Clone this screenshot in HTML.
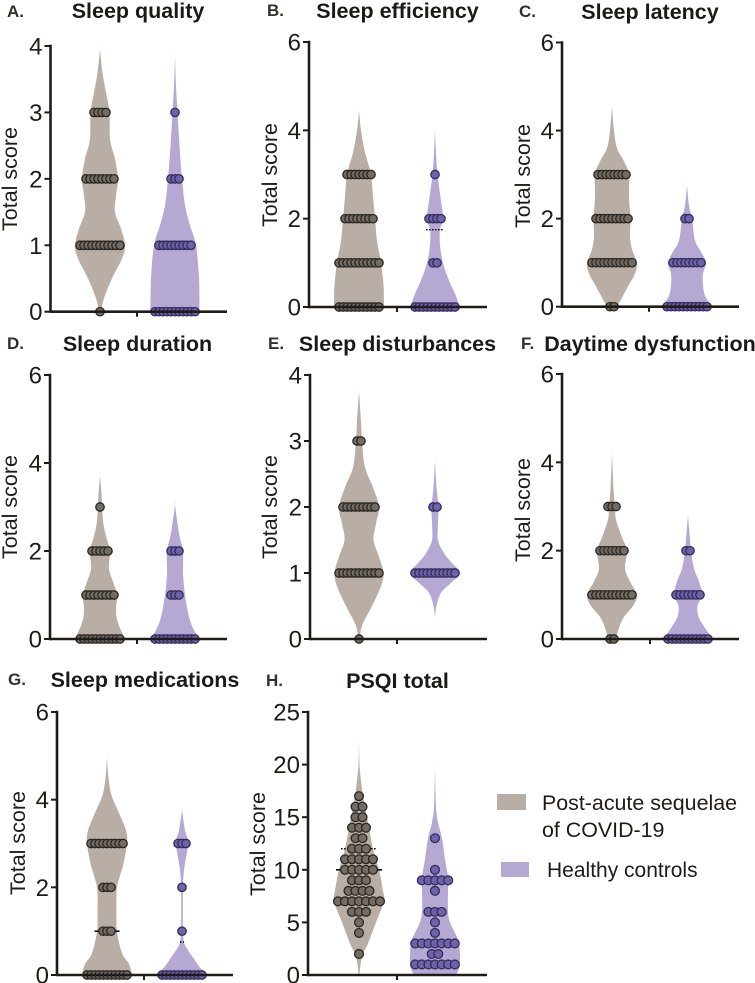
<!DOCTYPE html>
<html>
<head>
<meta charset="utf-8">
<style>
html,body{margin:0;padding:0;background:#fff;}
svg{display:block;font-family:"Liberation Sans",sans-serif;}
</style>
</head>
<body>
<svg id="fig" width="755" height="983" viewBox="0 0 755 983" xmlns="http://www.w3.org/2000/svg">
  <g>
    <rect x="497" y="794" width="29" height="16" fill="#b8aea6"/>
    <text x="542" y="810" font-size="21.4" fill="#1f1c18">Post-acute sequelae</text>
    <text x="542" y="837" font-size="21.4" fill="#1f1c18">of COVID-19</text>
    <rect x="501" y="862" width="28" height="15" fill="#b5a8d3"/>
    <text x="547" y="877" font-size="21" fill="#1f1c18">Healthy controls</text>
  </g>
</svg>
<script>
const categories = ['Post-acute sequelae of COVID-19', 'Healthy controls'];

// A. Sleep quality
const aTicks = [0, 1, 2, 3, 4];
const aScores = [0, 1, 2, 3];
const aPascCounts = [1, 11, 8, 4];
const aCtrlCounts = [11, 9, 3, 1];
const aPascGrid = [0, 0.2, 0.5, 0.8, 1, 1.25, 1.5, 1.75, 2, 2.3, 2.6, 3, 3.3, 3.6, 3.95];
const aPascDensity = [1, 4, 12, 22, 25, 21, 15, 16, 18, 15, 10, 9.5, 6, 2.5, 0];
const aCtrlGrid = [0, 0.5, 1, 1.3, 1.6, 2, 2.5, 3, 3.4, 3.85];
const aCtrlDensity = [24.5, 24, 21, 15, 10, 7, 4.5, 2.5, 1, 0];
const aPascLines = [1, 2, 3];
const aCtrlLines = [1];

// B. Sleep efficiency
const bTicks = [0, 2, 4, 6];
const bScores = [0, 1, 2, 3];
const bPascCounts = [11, 11, 8, 7];
const bCtrlCounts = [11, 2, 4, 1];
const bPascGrid = [0, 0.5, 1, 1.5, 2, 2.5, 3, 3.5, 4, 4.45];
const bPascDensity = [25, 24.5, 22, 18, 16, 14, 12, 6, 2, 0];
const bCtrlGrid = [0, 0.3, 0.6, 1, 1.4, 1.75, 2, 2.4, 3, 3.5, 4];
const bCtrlDensity = [25, 20, 14, 8, 5, 5, 8, 6, 2.5, 1, 0];
const bPascLines = [1, 3];
const bCtrlLines = [];
const bCtrlDotted = [1.75];

// C. Sleep latency
const cTicks = [0, 2, 4, 6];
const cScores = [0, 1, 2, 3];
const cPascCounts = [2, 11, 9, 8];
const cCtrlCounts = [11, 8, 2, 0];
const cPascGrid = [0, 0.25, 0.5, 0.75, 1, 1.3, 1.6, 2, 2.5, 3, 3.3, 3.6, 4, 4.55];
const cPascDensity = [5, 11, 17, 23, 25, 20, 18, 18.5, 17, 17, 12, 5, 2, 0];
const cCtrlGrid = [0, 0.25, 0.5, 0.75, 1, 1.25, 1.5, 2, 2.3, 2.75];
const cCtrlDensity = [25, 18, 16, 16, 19, 14, 8, 5, 2, 0];
const cPascLines = [1, 2, 3];
const cCtrlLines = [1];

// D. Sleep duration
const dTicks = [0, 2, 4, 6];
const dScores = [0, 1, 2, 3];
const dPascCounts = [11, 8, 5, 1];
const dCtrlCounts = [11, 3, 3, 0];
const dPascGrid = [0, 0.15, 0.3, 0.5, 0.7, 1, 1.3, 1.6, 2, 2.3, 2.6, 3, 3.3, 3.7];
const dPascDensity = [25, 22, 19, 16.5, 16, 17, 13, 9, 10, 6.5, 3.5, 2, 1.5, 0];
const dCtrlGrid = [0, 0.2, 0.5, 1, 1.5, 2, 2.4, 3.05];
const dCtrlDensity = [25, 19, 14, 10, 8, 8, 4, 0];
const dPascLines = [1];
const dCtrlLines = [];

// E. Sleep disturbances
const eTicks = [0, 1, 2, 3, 4];
const eScores = [0, 1, 2, 3];
const ePascCounts = [1, 11, 9, 2];
const eCtrlCounts = [0, 11, 2, 0];
const ePascGrid = [0, 0.2, 0.5, 0.8, 1, 1.25, 1.5, 1.75, 2, 2.3, 2.6, 3, 3.3, 3.75];
const ePascDensity = [1, 3, 13, 22, 24.5, 20, 14.5, 17, 20, 14, 6, 3, 2, 0];
const eCtrlGrid = [0.32, 0.5, 0.7, 0.85, 1, 1.15, 1.3, 1.5, 1.75, 2, 2.3, 2.7];
const eCtrlDensity = [0, 1.5, 6, 16, 25, 17, 9, 3, 3, 3.5, 1.5, 0];
const ePascLines = [1, 2];
const eCtrlLines = [1];

// F. Daytime dysfunction
const fTicks = [0, 2, 4, 6];
const fScores = [0, 1, 2, 3];
const fPascCounts = [2, 11, 7, 3];
const fCtrlCounts = [11, 7, 2, 0];
const fPascGrid = [0, 0.25, 0.5, 0.75, 1, 1.3, 1.6, 2, 2.3, 2.7, 3, 3.4, 4.2];
const fPascDensity = [4, 7, 12, 21, 25, 18, 13, 15, 10, 4, 3, 1.5, 0];
const fCtrlGrid = [0, 0.25, 0.5, 0.75, 1, 1.3, 1.6, 2, 2.4, 2.8];
const fCtrlDensity = [25, 17, 10.5, 9.5, 14, 11, 6, 3, 1.5, 0];
const fPascLines = [1, 2];
const fCtrlLines = [1];

// G. Sleep medications
const gTicks = [0, 2, 4, 6];
const gScores = [0, 1, 2, 3];
const gPascCounts = [11, 3, 3, 9];
const gCtrlCounts = [11, 1, 1, 3];
const gPascGrid = [0, 0.25, 0.5, 1, 1.5, 2, 2.5, 3, 3.3, 3.7, 4.1, 4.5, 4.95];
const gPascDensity = [25, 22, 15, 10, 9.5, 10, 16, 20, 19, 12, 4.5, 1.5, 0];
const gCtrlGrid = [0, 0.2, 0.4, 0.6, 0.75, 1, 1.5, 2, 2.4, 3, 3.3, 3.75];
const gCtrlDensity = [25, 17, 11, 5, 2, 1, 0.8, 1, 2, 6, 3, 0];
const gPascLines = [3];
const gPascMedian = [1];
const gCtrlLines = [3];
const gCtrlDotted = [0.75];

// H. PSQI total
const hTicks = [0, 5, 10, 15, 20, 25];
const hPascScores = [2, 4, 5, 6, 7, 8, 9, 10, 11, 12, 13, 14, 15, 16, 17];
const hPascCounts = [1, 1, 1, 3, 7, 4, 3, 5, 5, 3, 2, 3, 2, 2, 1];
const hCtrlScores = [1, 2, 3, 4, 5, 6, 8, 9, 10, 13];
const hCtrlCounts = [7, 2, 7, 1, 1, 3, 1, 5, 1, 1];
const hPascGrid = [0, 1, 2, 3, 5, 7, 8, 10, 12, 14, 15.5, 17, 18.5, 20, 22.3];
const hPascDensity = [0.5, 1.5, 4, 9, 17, 25, 24, 20, 14, 10, 7, 4, 2, 0.5, 0];
const hCtrlGrid = [0, 1, 3, 4, 5, 6, 8, 9, 11, 13, 14.5, 16, 19.7];
const hCtrlDensity = [21, 25, 24, 20, 15, 13, 13, 13.5, 10, 7, 3, 1, 0];
const hPascLines = [10];
const hPascDotted = [12];
const hCtrlLines = [3];

const panels = [
  {key:'a', letter:'A.', title:'Sleep quality', lx:7, ly:17, tx:138, ty:18, max:4, ticks:aTicks, scoresA:aScores, scoresB:aScores, countsA:aPascCounts, countsB:aCtrlCounts, gridA:aPascGrid, densA:aPascDensity, gridB:aCtrlGrid, densB:aCtrlDensity, linesA:aPascLines, linesB:aCtrlLines, axisX:50.5, top:46, base:311.7, end:227, c1:100, c2:175, tick:137, titleX:17, titleY:179, step:4, stepB:4, r:4.2, lineHalf:0, dotHalf:9},
  {key:'b', letter:'B.', title:'Sleep efficiency', lx:267, ly:16, tx:397.5, ty:18, max:6, ticks:bTicks, scoresA:bScores, scoresB:bScores, countsA:bPascCounts, countsB:bCtrlCounts, gridA:bPascGrid, densA:bPascDensity, gridB:bCtrlGrid, densB:bCtrlDensity, linesA:bPascLines, linesB:bCtrlLines, dottedB:bCtrlDotted, axisX:309, top:42, base:307, end:487, c1:359, c2:435, tick:397, titleX:277, titleY:175, step:4, stepB:4, r:4.2, lineHalf:0, dotHalf:9},
  {key:'c', letter:'C.', title:'Sleep latency', lx:519, ly:17, tx:650, ty:19, max:6, ticks:cTicks, scoresA:cScores, scoresB:cScores, countsA:cPascCounts, countsB:cCtrlCounts, gridA:cPascGrid, densA:cPascDensity, gridB:cCtrlGrid, densB:cCtrlDensity, linesA:cPascLines, linesB:cCtrlLines, axisX:562, top:42.5, base:306.7, end:739, c1:612, c2:687, tick:649, titleX:530, titleY:176, step:4, stepB:4, r:4.2, lineHalf:0, dotHalf:9},
  {key:'d', letter:'D.', title:'Sleep duration', lx:7, ly:349, tx:137.5, ty:351, max:6, ticks:dTicks, scoresA:dScores, scoresB:dScores, countsA:dPascCounts, countsB:dCtrlCounts, gridA:dPascGrid, densA:dPascDensity, gridB:dCtrlGrid, densB:dCtrlDensity, linesA:dPascLines, linesB:dCtrlLines, axisX:50, top:375, base:639, end:227, c1:100, c2:175, tick:137, titleX:17, titleY:507, step:4, stepB:4, r:4.2, lineHalf:0, dotHalf:9},
  {key:'e', letter:'E.', title:'Sleep disturbances', lx:268, ly:349, tx:397.5, ty:351, max:4, ticks:eTicks, scoresA:eScores, scoresB:eScores, countsA:ePascCounts, countsB:eCtrlCounts, gridA:ePascGrid, densA:ePascDensity, gridB:eCtrlGrid, densB:eCtrlDensity, linesA:ePascLines, linesB:eCtrlLines, axisX:310, top:375, base:639, end:487, c1:359, c2:435, tick:397, titleX:277, titleY:507, step:4, stepB:4, r:4.2, lineHalf:0, dotHalf:9},
  {key:'f', letter:'F.', title:'Daytime dysfunction', lx:521, ly:349, tx:650, ty:351, max:6, ticks:fTicks, scoresA:fScores, scoresB:fScores, countsA:fPascCounts, countsB:fCtrlCounts, gridA:fPascGrid, densA:fPascDensity, gridB:fCtrlGrid, densB:fCtrlDensity, linesA:fPascLines, linesB:fCtrlLines, axisX:562, top:374, base:639, end:739, c1:612, c2:688, tick:650, titleX:530, titleY:510, step:4, stepB:4, r:4.2, lineHalf:0, dotHalf:9},
  {key:'g', letter:'G.', title:'Sleep medications', lx:8, ly:685, tx:145, ty:687, max:6, ticks:gTicks, scoresA:gScores, scoresB:gScores, countsA:gPascCounts, countsB:gCtrlCounts, gridA:gPascGrid, densA:gPascDensity, gridB:gCtrlGrid, densB:gCtrlDensity, linesA:gPascLines, linesB:gCtrlLines, medianA:gPascMedian, dottedB:gCtrlDotted, axisX:57, top:712, base:975, end:233, c1:107, c2:182, tick:144, titleX:25, titleY:843, step:4, stepB:4, r:4.2, lineHalf:0, dotHalf:2},
  {key:'h', letter:'H.', title:'PSQI total', lx:266, ly:686, tx:397.5, ty:688, max:25, ticks:hTicks, scoresA:hPascScores, scoresB:hCtrlScores, countsA:hPascCounts, countsB:hCtrlCounts, gridA:hPascGrid, densA:hPascDensity, gridB:hCtrlGrid, densB:hCtrlDensity, linesA:hPascLines, linesB:hCtrlLines, dottedA:hPascDotted, axisX:308, top:712, base:975, end:487, c1:359, c2:435, tick:397, titleX:265, titleY:844, step:7, stepB:6.6, r:4.4, lineHalf:23, dotHalf:18}
];

const NS = 'http://www.w3.org/2000/svg';
const fig = document.getElementById('fig');
const INK = '#1f1c18';

function make(tag, parent, props) {
  const el = document.createElementNS(NS, tag);
  for (const k in props) el.setAttribute(k, props[k]);
  parent.appendChild(el);
  return el;
}

function violinPath(grid, dens, cx, yScale) {
  const right = grid.map((v, i) => [cx + dens[i], yScale(v)]);
  const left = grid.map((v, i) => [cx - dens[i], yScale(v)]).reverse();
  const pts = right.concat(left);
  let d = 'M' + pts[0][0].toFixed(2) + ' ' + pts[0][1].toFixed(2);
  for (let i = 0; i < pts.length - 1; i++) {
    const p0 = pts[Math.max(0, i - 1)], p1 = pts[i], p2 = pts[i + 1], p3 = pts[Math.min(pts.length - 1, i + 2)];
    const c1x = p1[0] + (p2[0] - p0[0]) / 6, c1y = p1[1] + (p2[1] - p0[1]) / 6;
    const c2x = p2[0] - (p3[0] - p1[0]) / 6, c2y = p2[1] - (p3[1] - p1[1]) / 6;
    d += 'C' + c1x.toFixed(2) + ' ' + c1y.toFixed(2) + ' ' + c2x.toFixed(2) + ' ' + c2y.toFixed(2) + ' ' + p2[0].toFixed(2) + ' ' + p2[1].toFixed(2);
  }
  return d + 'Z';
}

function drawGroup(g, p, yScale, groupName, cx, grid, dens, scores, counts, lines, dotted, median, step, fill, dotFill, dotStroke) {
  const path = make('path', g, {d: violinPath(grid, dens, cx, yScale), fill: fill});
  
  

  lines.forEach(v => {
    const idx = scores.indexOf(v);
    const n = idx >= 0 ? counts[idx] : 0;
    const half = Math.max(((n - 1) * step) / 2 + 2, p.lineHalf);
    const ln = make('line', g, {x1: cx - half, x2: cx + half, y1: yScale(v), y2: yScale(v), stroke: '#111', 'stroke-width': 1.6});
    
    
  });
  (median || []).forEach(v => {
    const ln = make('line', g, {x1: cx - 12.5, x2: cx + 12.5, y1: yScale(v), y2: yScale(v), stroke: '#111', 'stroke-width': 1.6});
    
    
  });
  (dotted || []).forEach(v => {
    const half = p.dotHalf;
    const ln = make('line', g, {x1: cx - half, x2: cx + half, y1: yScale(v), y2: yScale(v), stroke: '#111', 'stroke-width': 1.4, 'stroke-dasharray': '1.6 1.4'});
    
    
  });

  scores.forEach((score, i) => {
    const n = counts[i];
    for (let k = 0; k < n; k++) {
      const dx = (k - (n - 1) / 2) * step;
      const dot = make('circle', g, {cx: cx + dx, cy: yScale(score), r: p.r, fill: dotFill, stroke: dotStroke, 'stroke-width': 1.3});
      
      
    }
  });
}

panels.forEach(p => {
  const yScale = v => p.base - (v / p.max) * (p.base - p.top);
  const g = make('g', fig, {});
  
  

  const letter = make('text', g, {x: p.lx, y: p.ly, 'font-size': 17, 'font-weight': 'bold', fill: '#33302c'});
  letter.textContent = p.letter;
  
  

  const title = make('text', g, {x: p.tx, y: p.ty, 'text-anchor': 'middle', 'font-size': 21.5, 'font-weight': 'bold', fill: '#1c1a17'});
  title.textContent = p.title;
  
  

  drawGroup(g, p, yScale, 'post-acute', p.c1, p.gridA, p.densA, p.scoresA, p.countsA, p.linesA, p.dottedA, p.medianA, p.step, '#b8aea6', '#726c65', '#2b2622');
  drawGroup(g, p, yScale, 'healthy', p.c2, p.gridB, p.densB, p.scoresB, p.countsB, p.linesB, p.dottedB, p.medianB, p.stepB, '#b5a8d3', '#6f62a8', '#332c5c');

  const yAxis = make('line', g, {x1: p.axisX, x2: p.axisX, y1: p.top - 1.2, y2: p.base + 1.2, stroke: INK, 'stroke-width': 2.6});
  
  
  const xAxis = make('line', g, {x1: p.axisX, x2: p.end, y1: p.base, y2: p.base, stroke: INK, 'stroke-width': 2.6});
  
  
  const xTick = make('line', g, {x1: p.tick, x2: p.tick, y1: p.base, y2: p.base + 5, stroke: INK, 'stroke-width': 2});
  
  

  p.ticks.forEach(t => {
    const y = yScale(t);
    const tk = make('line', g, {x1: p.axisX - 6, x2: p.axisX, y1: y, y2: y, stroke: INK, 'stroke-width': 2});
    
    
    const lb = make('text', g, {x: p.axisX - 8, y: y + 8.5, 'text-anchor': 'end', 'font-size': 24, fill: INK});
    lb.textContent = t;
    
    
  });

  const yt = make('text', g, {x: 0, y: 0, 'text-anchor': 'middle', 'font-size': 21.5, fill: INK, transform: 'translate(' + p.titleX + ' ' + p.titleY + ') rotate(-90)'});
  yt.textContent = 'Total score';
  
  
});
</script>
</body>
</html>
